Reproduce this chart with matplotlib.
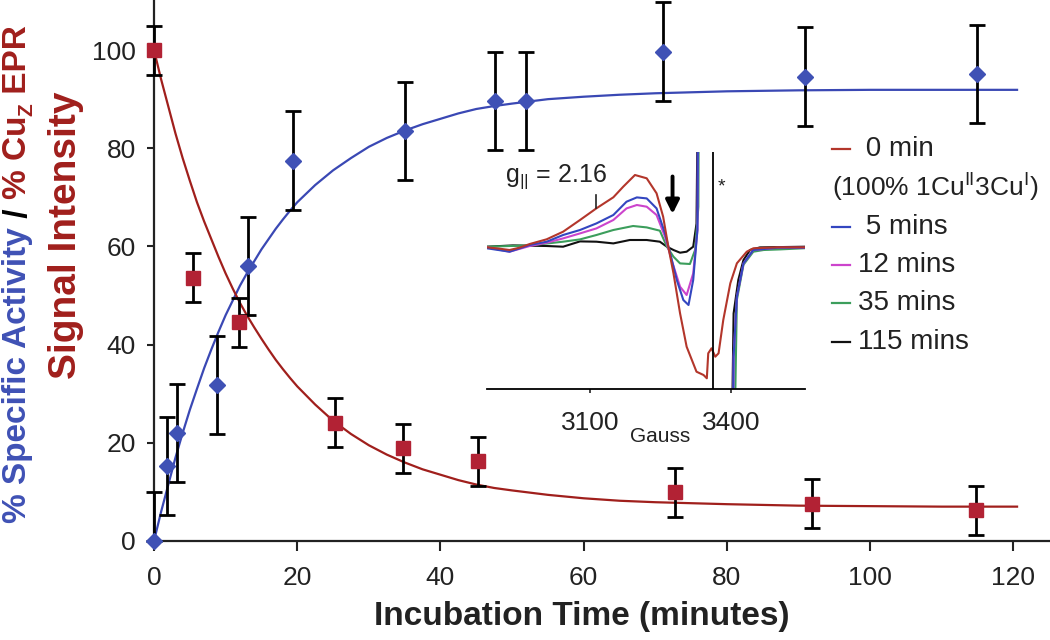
import numpy as np
import matplotlib.pyplot as plt
from matplotlib.lines import Line2D

plt.rcParams['font.family'] = ['Liberation Sans', 'DejaVu Sans']
plt.rcParams['mathtext.fontset'] = 'custom'
plt.rcParams['mathtext.rm'] = 'Liberation Sans'
plt.rcParams['mathtext.it'] = 'Liberation Sans:italic'
plt.rcParams['mathtext.bf'] = 'Liberation Sans:bold'

# --- datos ---
# actividad especifica (azul)
t_act = [0, 1.8, 3.2, 8.8, 13.1, 19.4, 35.1, 47.6, 51.9, 71.1, 90.9, 114.9]
act = [0, 15.2, 22, 31.8, 56, 77.5, 83.5, 89.7, 89.7, 99.7, 94.6, 95.1]
act_err_lo = [0, 10, 10, 10, 10, 10, 10, 10, 10, 10, 10, 10]
act_err_hi = [10, 10, 10, 10, 10, 10, 10, 10, 10, 10, 10, 10]

# senal EPR CuZ (rojo)
t_epr = [0, 5.4, 11.8, 25.3, 34.7, 45.3, 72.7, 91.9, 114.8]
epr = [100, 53.6, 44.6, 24.1, 18.9, 16.2, 9.9, 7.6, 6.3]
epr_err = [5, 5, 5, 5, 5, 5, 5, 5, 5]

# curvas de ajuste (puntos leidos sobre la linea)
fit_t = [0, 1, 2, 3, 4, 5, 6, 7, 8, 9, 10, 11, 12, 13, 14, 15, 16, 17, 18, 19, 20,
         22.5, 25, 27.5, 30, 32.5, 35, 37.5, 40, 42.5, 45, 47.5, 50, 55,
         60, 65, 70, 80, 90, 100, 110, 120.5]
fit_act = [0, 6, 11.5, 17, 22, 26.7, 31, 35.2, 39, 42.6, 46, 49, 52, 54.6, 57,
           59.4, 61.5, 63.6, 65.5, 67.3, 69, 72.5, 75.5, 78, 80.3, 82.1, 83.6,
           84.9, 86, 87.1, 88, 88.6, 89.1, 90, 90.5, 90.9, 91.2, 91.6, 91.8,
           91.9, 91.9, 91.9]
fit_epr = [100, 94, 88.5, 83, 78, 73.4, 69, 65.1, 61.5, 57.9, 54.5, 51.4, 48.5,
           45.9, 43.5, 41.2, 39, 36.9, 35, 33.2, 31.5, 27.8, 24.5, 21.8, 19.5,
           17.6, 16, 14.6, 13.5, 12.4, 11.5, 10.8, 10.3, 9.4, 8.7, 8.2, 7.9,
           7.5, 7.2, 7.1, 7.0, 7.0]

# espectros EPR del recuadro (campo en Gauss, intensidad relativa)
g_red = [2881, 2908, 2929, 2950, 2972, 3008, 3043, 3079, 3114, 3150, 3171, 3196,
         3221, 3242, 3256, 3267, 3278, 3292, 3306, 3327, 3342, 3349, 3352, 3359,
         3367, 3374, 3384, 3399, 3413, 3434, 3448, 3500, 3558]
s_red = [-0.6, -2, -3.3, -1, 2.7, 7.4, 15, 26.7, 38.4, 49.4, 60, 71.7,
         68.4, 53.4, 30, 0, -26.6, -66.6, -100, -125, -128.3, -131.6, -106.6, -101.6,
         -110, -106.6, -73.3, -36.6, -16.6, -5, -1.6, -0.6, -0.6]
g_blue = [2881, 2929, 2972, 3008, 3043, 3079, 3114, 3150, 3178, 3200, 3221, 3242,
          3260, 3271, 3285, 3299, 3310, 3320, 3329, 3332, np.nan,
          3402, 3406, 3413, 3427, 3448, 3500, 3558]
s_blue = [-1.6, -5, 1.7, 5, 11.7, 16.7, 23.3, 31.7, 45, 49.3, 48.3, 38.3,
          13.3, -6.7, -33.3, -53.3, -58.3, -33.3, 16.7, 300, np.nan,
          -300, -110, -50, -16.7, -3.3, -1, -1]
g_mag = [2881, 2929, 2972, 3008, 3043, 3079, 3114, 3150, 3178, 3200, 3221, 3242,
         3260, 3274, 3292, 3306, 3320, 3329, 3332, np.nan,
         3403, 3406, 3413, 3427, 3448, 3500, 3558]
s_mag = [-0.6, -5, 0.7, 4, 8.3, 13.3, 18.3, 26.7, 38.3, 41.7, 40, 31.7,
         10, -13.3, -40, -48.3, -26.7, 16.7, 300, np.nan,
         -300, -110, -50, -16.7, -3.3, -1, -1]
g_green = [2881, 2972, 3043, 3079, 3114, 3150, 3192, 3221, 3249, 3264, 3278, 3292,
           3313, 3324, 3331, 3333, np.nan,
           3404, 3413, 3427, 3448, 3470, 3505, 3558]
s_green = [0, 1.3, 5, 7.3, 11.7, 16.7, 20.7, 19.3, 16, 0, -10, -16.7,
           -17.3, -3.3, 40, 300, np.nan,
           -300, -53, -18, -5, -3.3, -2.7, -1.5]
g_black = [2881, 2936, 3008, 3043, 3079, 3114, 3150, 3185, 3221, 3249, 3264, 3278,
           3292, 3306, 3320, 3327, 3333, np.nan,
           3399, 3406, 3416, 3427, 3441, 3462, 3558]
s_black = [0, 1.3, 0.7, 0, 5.3, 5, 3.3, 6.7, 6.7, 5, 0, -3.3,
           -6, -5, 0, 23, 300, np.nan,
           -300, -66.7, -33.3, -13.3, -3.3, -0.7, 0]

spec_labels = [" 0 min", " 5 mins", "12 mins", "35 mins", "115 mins"]
spec_colors = ["#b3362b", "#3346c0", "#cc44cc", "#3c9e5c", "#111111"]
star_field = 3362      # linea marcada con *
g_par_field = 3113     # posicion de g|| = 2.16
arrow_field = 3276

x_ticks = [0, 20, 40, 60, 80, 100, 120]
y_ticks = [0, 20, 40, 60, 80, 100]
gauss_ticks = [3100, 3400]

BLUE = "#3f51b5"
BLUE_LINE = "#3a48b4"
RED = "#b22234"
RED_LINE = "#a01f1c"

fig = plt.figure(figsize=(10.5, 6.4), dpi=100)
W, H = 1050, 640

# --- grafica principal ---
ax = fig.add_axes([154 / W, 1 - 541 / H, (W - 154) / W, 541 / H])
ax.plot(fit_t, fit_act, color=BLUE_LINE, lw=1.6, zorder=2)
ax.plot(fit_t, fit_epr, color=RED_LINE, lw=1.6, zorder=2)
ax.errorbar(t_act, act, yerr=[act_err_lo, act_err_hi], fmt='none', ecolor='black',
            elinewidth=2, capsize=6, capthick=2, clip_on=False, zorder=3)
ax.errorbar(t_epr, epr, yerr=epr_err, fmt='none', ecolor='black',
            elinewidth=2, capsize=6, capthick=2, clip_on=False, zorder=3)
ax.plot(t_act, act, 'D', color=BLUE, ms=8, mec=BLUE, clip_on=False, zorder=4)
ax.plot(t_epr, epr, 's', color=RED, ms=9.5, mec=RED, clip_on=False, zorder=4)

ax.set_xlim(0, 125.1)
ax.set_ylim(0, 110.2)
ax.set_xticks(x_ticks)
ax.set_yticks(y_ticks)
for s in ['top', 'right']:
    ax.spines[s].set_visible(False)
for s in ['left', 'bottom']:
    ax.spines[s].set_linewidth(1.6)
    ax.spines[s].set_color('#222222')
ax.tick_params(axis='x', labelsize=19, length=7, width=1.5, pad=11, colors='#222222')
ax.tick_params(axis='y', labelsize=19, length=5, width=1.5, pad=8, colors='#222222')
ax.set_xlabel("Incubation Time (minutes)", fontsize=24, fontweight='bold', color='#222222')
ax.xaxis.set_label_coords((582 - 154) / (W - 154), -(616 - 541) / 541)
ax.xaxis.label.set_va('center')

# etiqueta del eje y en dos colores
fig.canvas.draw()
rend = fig.canvas.get_renderer()
piezas = [("% Specific Activity", BLUE, 24, 0),
          (" / ", "black", 24, 0),
          ("% Cu", RED_LINE, 24, 0),
          ("Z", RED_LINE, 15, 9),
          (" EPR", RED_LINE, 24, 0)]
y0 = 1 - 523 / H
for txt, col, size, dx in piezas:
    t = fig.text((18 + dx) / W, y0, txt, rotation=90, ha='center', va='bottom',
                 color=col, fontsize=size, fontweight='bold')
    bb = t.get_window_extent(rend)
    y0 += bb.height / fig.bbox.height
fig.text(66 / W, 1 - 235 / H, "Signal Intensity", rotation=90, ha='center', va='center',
         color=RED_LINE, fontsize=28, fontweight='bold')

# --- recuadro con espectros EPR ---
axi = fig.add_axes([487 / W, 1 - 388.5 / H, (805 - 487) / W, (388.5 - 151.7) / H])
axi.patch.set_alpha(0)
spectra = [(g_red, s_red), (g_blue, s_blue), (g_mag, s_mag), (g_green, s_green),
           (g_black, s_black)]
for (gx, sy), col in zip(spectra[::-1], spec_colors[::-1]):
    axi.plot(gx, sy, color=col, lw=1.5)
axi.axvline(star_field, color='black', lw=1.3)
axi.set_xlim(2881, 3558)
axi.set_ylim(-141.8, 95)
for s in ['top', 'right', 'left']:
    axi.spines[s].set_visible(False)
axi.spines['bottom'].set_linewidth(1.3)
axi.set_yticks([])
axi.set_xticks(gauss_ticks)
axi.tick_params(axis='x', labelsize=19, length=3, width=1.2, pad=13, colors='#222222')
axi.set_xlabel("Gauss", fontsize=15, color='#222222')
axi.xaxis.set_label_coords((660 - 487) / (805 - 487), -(437 - 388.5) / (388.5 - 151.7))
axi.xaxis.label.set_va('center')

axi.text(3027, 70, "g$_{||}$ = 2.16", fontsize=18, ha='center', va='center', color='#222222')
axi.plot([g_par_field, g_par_field], [39, 52], color='#222222', lw=1.2)
axi.annotate("", xy=(arrow_field, 30), xytext=(arrow_field, 73),
             arrowprops=dict(arrowstyle='-|>', lw=2.8, color='black', mutation_scale=20))
axi.text(3381, 60, "*", fontsize=14, ha='center', va='center', color='#222222')

# leyenda del recuadro
filas = [149, 227, 265, 303, 342]
for lab, col, yy in zip(spec_labels, spec_colors, filas):
    fig.add_artist(Line2D([832 / W, 850 / W], [1 - yy / H, 1 - yy / H], color=col, lw=1.6))
    fig.text(858 / W, 1 - yy / H, lab, fontsize=20, va='center', ha='left', color='#222222')
fig.text(832 / W, 1 - 188 / H, "(100% 1Cu$^{\\mathrm{II}}$3Cu$^{\\mathrm{I}}$)",
         fontsize=19, va='center', ha='left', color='#222222')

fig.savefig("out.png", dpi=100)
